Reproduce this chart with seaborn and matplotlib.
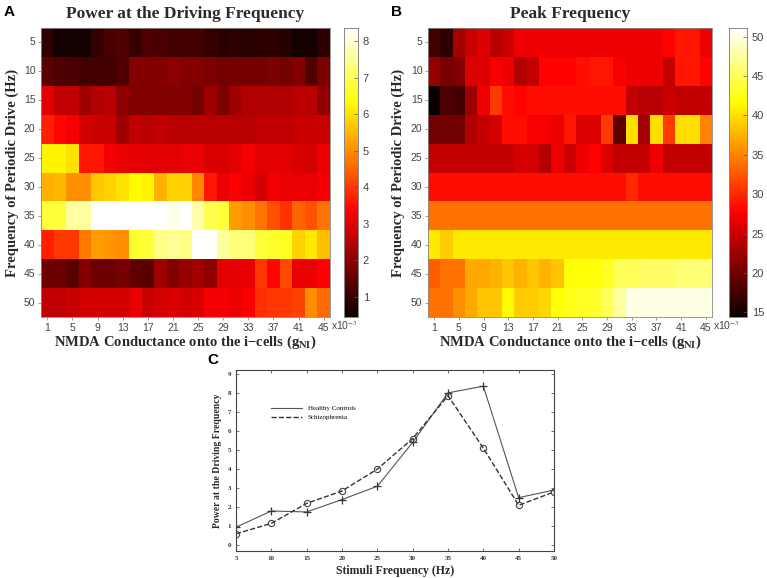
import numpy as np
import matplotlib
matplotlib.use("Agg")
import matplotlib.pyplot as plt
from matplotlib.lines import Line2D
import seaborn as sns

# drive frequencies (rows) and NMDA conductance (columns, x10^-3)
drive_freq = [5, 10, 15, 20, 25, 30, 35, 40, 45, 50]
g_ni = list(range(1, 46, 2))

power = [
    [0.9, 0.6, 0.6, 0.6, 1.0, 1.2, 1.3, 1.0, 1.3, 1.2, 1.1, 1.1, 1.1, 1.0, 0.8, 0.9, 0.8, 0.9, 0.9, 0.8, 0.6, 0.6, 0.9],
    [1.4, 1.3, 1.2, 1.1, 1.1, 1.1, 1.3, 1.9, 1.9, 1.9, 2.0, 1.9, 1.9, 1.8, 1.7, 1.7, 1.7, 1.7, 1.8, 1.7, 1.9, 1.3, 1.8],
    [3.0, 2.6, 2.6, 2.2, 2.4, 2.5, 2.0, 1.9, 1.9, 1.9, 1.9, 1.9, 1.7, 2.2, 1.8, 2.2, 2.4, 2.4, 2.4, 2.4, 2.5, 2.5, 2.0],
    [3.7, 3.4, 3.2, 2.8, 2.7, 2.7, 2.2, 2.6, 2.5, 2.6, 2.5, 2.5, 2.5, 2.5, 2.5, 2.5, 2.5, 2.6, 2.6, 2.6, 2.7, 2.7, 2.7],
    [6.2, 6.2, 6.0, 3.6, 3.6, 3.2, 3.1, 3.0, 3.0, 3.0, 3.0, 3.1, 3.1, 2.9, 2.9, 3.0, 3.2, 3.0, 3.0, 3.0, 2.9, 2.8, 3.1],
    [5.4, 5.5, 5.0, 5.0, 5.7, 5.8, 6.0, 6.3, 6.2, 5.4, 5.8, 5.8, 4.9, 3.6, 3.1, 3.3, 3.1, 2.8, 3.2, 3.1, 3.1, 3.1, 3.2],
    [6.8, 6.8, 7.6, 7.6, 8.4, 8.4, 8.4, 8.4, 8.4, 8.3, 8.2, 8.3, 7.7, 7.0, 6.8, 5.2, 5.0, 4.7, 4.3, 3.9, 4.5, 4.3, 4.7],
    [3.7, 4.0, 4.0, 4.8, 5.2, 5.1, 5.0, 6.7, 6.8, 7.4, 7.5, 7.4, 8.3, 8.3, 7.6, 7.3, 7.3, 6.8, 6.7, 6.6, 5.8, 6.1, 5.6],
    [1.6, 1.6, 1.4, 1.9, 1.6, 1.6, 1.7, 1.5, 1.4, 2.2, 1.9, 2.1, 2.3, 2.0, 3.0, 3.0, 3.1, 4.0, 3.4, 4.2, 3.1, 3.1, 3.3],
    [2.6, 2.6, 2.7, 2.8, 2.8, 2.8, 2.8, 3.1, 2.7, 2.8, 2.9, 2.8, 2.9, 3.2, 3.2, 3.1, 3.3, 3.9, 4.0, 4.0, 4.1, 5.0, 4.6],
]

peak = [
    [17.5, 16.5, 23, 25, 26, 24, 25, 27, 27, 27, 27, 27, 27, 27, 27, 27, 27, 27, 27, 28, 29, 29, 27],
    [22, 20.5, 21, 26, 26, 27.5, 27, 23.5, 24.5, 28, 28, 28, 28.5, 29, 29, 27.5, 27, 27, 27, 24.5, 29, 29, 28],
    [14.5, 18, 17.5, 22.5, 27, 31, 28.5, 28, 28.5, 28.5, 28.5, 28.5, 28.5, 28.5, 28.5, 28.5, 24.5, 24, 24, 25, 24.5, 24.5, 24.5],
    [20, 20, 20, 23.5, 24.5, 25.5, 28.5, 28.5, 27.5, 27.5, 27, 29, 26, 26, 31, 19, 40, 23, 40, 31, 40, 40, 35],
    [24.5, 24.5, 24.5, 24.5, 24.5, 24.5, 24.5, 25.5, 25.5, 23.5, 27, 25, 27, 28, 26, 24.5, 24.5, 24.5, 27, 24.5, 24.5, 24.5, 24.5],
    [28.5, 28.5, 28.5, 28.5, 28.5, 28.5, 28.5, 28.5, 28.5, 28.5, 28.5, 28.5, 28.5, 28.5, 28.5, 28.5, 30, 28.5, 28.5, 28.5, 28.5, 28.5, 28.5],
    [34, 34, 34, 34, 34, 34, 34, 34, 34, 34, 34, 34, 34, 34, 34, 34, 34, 34, 34, 34, 34, 34, 34],
    [40.5, 39, 40.5, 40.5, 40.5, 40.5, 40.5, 40.5, 40.5, 40.5, 40.5, 40.5, 40.5, 40.5, 40.5, 40.5, 40.5, 40.5, 40.5, 40.5, 40.5, 40.5, 40.5],
    [33, 34, 34, 37, 37, 37.5, 38.5, 37.5, 38.5, 37.5, 38.5, 42, 42, 42, 43, 45, 45, 45.5, 45.5, 45.5, 46, 46, 46],
    [34, 34, 35.5, 37, 38.5, 38.5, 41.5, 39, 39, 39.5, 42, 42.5, 43, 43.5, 45, 47.5, 50, 50, 50, 50, 50, 50, 50],
]

stim_freq = [5, 10, 15, 20, 25, 30, 35, 40, 45, 50]
healthy = [0.95, 1.8, 1.75, 2.4, 3.1, 5.4, 8.0, 8.35, 2.5, 2.9]
schizo = [0.6, 1.15, 2.2, 2.85, 4.0, 5.6, 7.85, 5.1, 2.1, 2.8]

plt.rcParams["mathtext.fontset"] = "stix"

SERIF = ["Liberation Serif", "DejaVu Serif"]
SANS = ["Liberation Sans", "DejaVu Sans"]
TXT = "#2a2a2a"

W, H = 767, 578


def box(l, t, r, b):
    return [l / W, 1 - b / H, (r - l) / W, (b - t) / H]


fig = plt.figure(figsize=(W / 100, H / 100), dpi=100)


def draw_heat(data, ax, cax, vmin, vmax, cticks, title, ylab_x):
    sns.heatmap(np.array(data), ax=ax, cbar_ax=cax, cmap="hot", vmin=vmin, vmax=vmax,
                cbar_kws={"ticks": cticks})
    ax.set_xticks([g_ni.index(v) + 0.5 for v in range(1, 46, 4)])
    ax.set_xticklabels([str(v) for v in range(1, 46, 4)], rotation=0,
                       fontsize=7.5, family=SANS, color="#444444")
    ax.set_yticks(np.arange(len(drive_freq)) + 0.5)
    ax.set_yticklabels([str(v) for v in drive_freq], rotation=0,
                       fontsize=7.5, family=SANS, color="#444444")
    ax.tick_params(length=2, width=0.5, color="#777777", pad=2)
    for s in ax.spines.values():
        s.set_visible(True)
        s.set_color("#888888")
        s.set_linewidth(0.6)
    ax.set_title(title, fontsize=12.5, fontweight="bold", family=SERIF, color=TXT, pad=7)
    ax.set_xlabel("NMDA Conductance onto the i\u2212cells (g$_{\\mathbf{NI}}$)", fontsize=10.5,
                  fontweight="bold", family=SERIF, color=TXT, labelpad=1)
    ax.set_ylabel("Frequency of Periodic Drive (Hz)", fontsize=10.5, fontweight="bold",
                  family=SERIF, color=TXT)
    ax.yaxis.set_label_coords(ylab_x, 0.5)
    ax.text(1.005, -0.03, "x10$^{-3}$", transform=ax.transAxes, fontsize=7.5,
            family=SANS, color="#444444", va="center", ha="left")
    cax.tick_params(labelsize=8, length=3, width=0.5, color="#555555", direction="in")
    for t in cax.get_yticklabels():
        t.set_family(SANS)
        t.set_color("#444444")
    for s in cax.spines.values():
        s.set_visible(True)
        s.set_color("#888888")
        s.set_linewidth(0.6)


axA = fig.add_axes(box(41, 28, 330, 317))
caxA = fig.add_axes(box(344, 28, 358, 317))
draw_heat(power, axA, caxA, 0.45, 8.36, list(range(1, 9)),
          "Power at the Driving Frequency", -0.075)

axB = fig.add_axes(box(428, 28, 712, 317))
caxB = fig.add_axes(box(729, 28, 747, 317))
draw_heat(peak, axB, caxB, 14.4, 51.1, list(range(15, 51, 5)), "Peak Frequency", -0.082)

fig.text(4 / W, 1 - 12 / H, "A", fontsize=11, fontweight="bold", family=SANS, va="center")
fig.text(391 / W, 1 - 12 / H, "B", fontsize=11, fontweight="bold", family=SANS, va="center")
fig.text(207 / W, 1 - 360 / H, "C", fontsize=11, fontweight="bold", family=SANS, va="center")

# panel C line plot
axC = fig.add_axes(box(236, 370, 554, 551))
sns.lineplot(x=stim_freq, y=healthy, ax=axC, color="#555555", linewidth=0.8,
             marker="+", markersize=6, markeredgewidth=0.9, markeredgecolor="#333333")
sns.lineplot(x=stim_freq, y=schizo, ax=axC, color="#333333", linewidth=1.0,
             linestyle="--", marker="o", markersize=4.5, markerfacecolor="none",
             markeredgewidth=0.8, markeredgecolor="#444444")
axC.set_xlim(5, 50)
axC.set_ylim(-0.3, 9.2)
axC.set_xticks(stim_freq)
axC.set_yticks(range(0, 10))
axC.tick_params(direction="in", top=True, right=True, length=2, width=0.5, labelsize=5,
                colors="#333333")
for t in axC.get_xticklabels() + axC.get_yticklabels():
    t.set_family(SERIF)
    t.set_fontweight("bold")
for s in axC.spines.values():
    s.set_color("#444444")
    s.set_linewidth(0.8)
axC.set_xlabel("Stimuli Frequency (Hz)", fontsize=8.5, fontweight="bold", family=SERIF,
               color=TXT, labelpad=3)
axC.set_ylabel("Power at the Driving Frequency", fontsize=7, fontweight="bold",
               family=SERIF, color=TXT, labelpad=4)
handles = [Line2D([], [], color="#555555", linewidth=0.8),
           Line2D([], [], color="#333333", linewidth=1.0, linestyle="--")]
axC.legend(handles, ["Healthy Controls", "Schizophrenia"], loc="upper left",
           bbox_to_anchor=(0.09, 0.84), frameon=False,
           prop={"family": SERIF, "size": 5}, handlelength=4.5, labelspacing=0.5)

fig.savefig("out.png", dpi=100)
